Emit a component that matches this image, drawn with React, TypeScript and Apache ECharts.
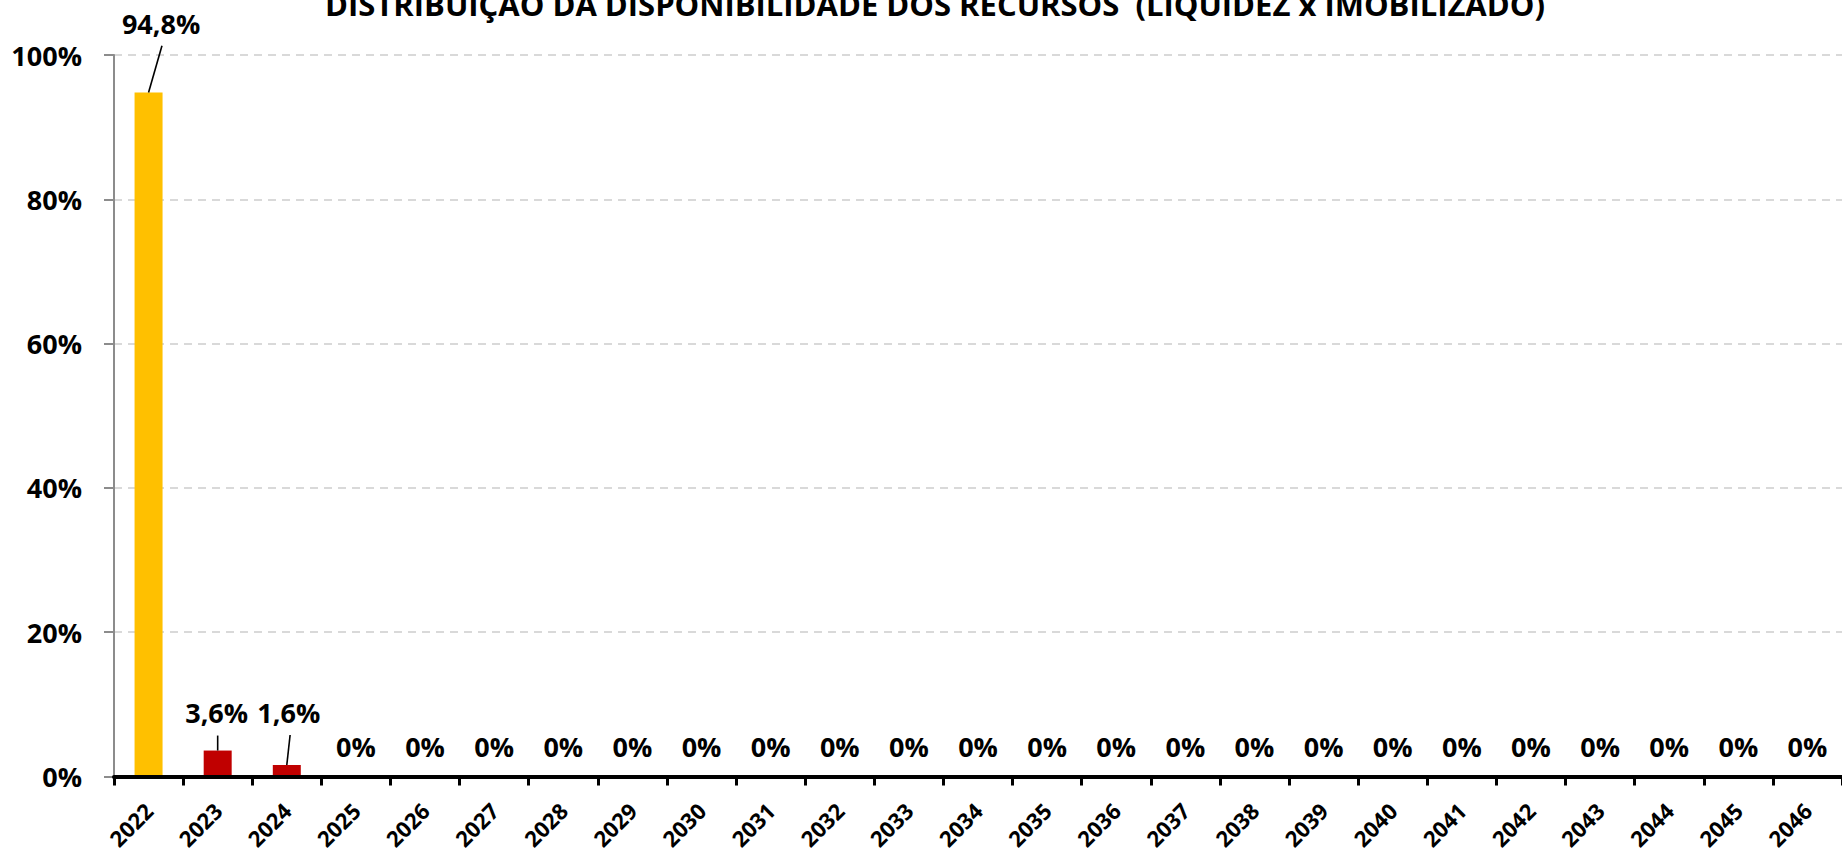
import React, { useEffect, useRef } from "react";
import * as echarts from "echarts";

const TITLE = "DISTRIBUIÇÃO DA DISPONIBILIDADE DOS RECURSOS  (LIQUIDEZ x IMOBILIZADO)";

const years = [
  "2022", "2023", "2024", "2025", "2026", "2027", "2028", "2029", "2030",
  "2031", "2032", "2033", "2034", "2035", "2036", "2037", "2038", "2039",
  "2040", "2041", "2042", "2043", "2044", "2045", "2046",
];

const shares = [
  94.8, 3.6, 1.6, 0, 0, 0, 0, 0, 0,
  0, 0, 0, 0, 0, 0, 0, 0, 0,
  0, 0, 0, 0, 0, 0, 0,
];

const kinds = [
  "Liquidez", "Imobilizado", "Imobilizado", "Imobilizado", "Imobilizado", "Imobilizado",
  "Imobilizado", "Imobilizado", "Imobilizado", "Imobilizado", "Imobilizado", "Imobilizado",
  "Imobilizado", "Imobilizado", "Imobilizado", "Imobilizado", "Imobilizado", "Imobilizado",
  "Imobilizado", "Imobilizado", "Imobilizado", "Imobilizado", "Imobilizado", "Imobilizado",
  "Imobilizado",
];

const yMin = 0;
const yMax = 100;
const yStep = 20;

const FONT = "'Open Sans', 'Noto Sans', sans-serif";
const kindColor: Record<string, string> = { Liquidez: "#FFC000", Imobilizado: "#C00000" };

// label displacement (px) for the labels that sit away from their bar, and guide lines
const labelShift: Record<number, [number, number]> = {
  0: [12.5, -54],
  1: [-1, -23],
  2: [2, -37],
};
const guideEnd: Record<number, [number, number]> = {
  0: [13.4, -46.7],
  1: [0, -15],
  2: [3.3, -30],
};

function fmt(v: number): string {
  if (v === 0) return "0%";
  return v.toFixed(1).replace(".", ",") + "%";
}

export default function App() {
  const ref = useRef<HTMLDivElement>(null);

  useEffect(() => {
    if (!ref.current) return;
    const chart = echarts.init(ref.current, null, { renderer: "svg" });

    const guided = shares.map((v, i) => i).filter((i) => guideEnd[i] !== undefined);

    const option: any = {
      animation: false,
      backgroundColor: "#ffffff",
      graphic: [
        {
          type: "text",
          x: 935,
          y: 4,
          style: {
            text: TITLE,
            fill: "#000",
            font: `bold 31px ${FONT}`,
            textAlign: "center",
            textVerticalAlign: "middle",
          },
        },
      ],
      grid: { left: 114, top: 55, width: 1730, height: 722, containLabel: false },
      xAxis: {
        type: "category",
        data: years,
        boundaryGap: true,
        axisLine: { show: true, lineStyle: { color: "#000", width: 4 } },
        axisTick: { show: true, alignWithLabel: false, length: 9, lineStyle: { color: "#000", width: 3 } },
        axisLabel: {
          interval: 0,
          rotate: 45,
          margin: 30,
          color: "#000",
          fontFamily: FONT,
          fontWeight: "bold",
          fontSize: 22,
        },
        splitLine: { show: false },
        z: 5,
      },
      yAxis: {
        type: "value",
        min: yMin,
        max: yMax,
        interval: yStep,
        axisLine: { show: true, lineStyle: { color: "#8c8c8c", width: 2 } },
        axisTick: { show: true, length: 10, lineStyle: { color: "#8c8c8c", width: 2 } },
        axisLabel: {
          formatter: "{value}%",
          margin: 32,
          color: "#000",
          fontFamily: FONT,
          fontWeight: "bold",
          fontSize: 27,
        },
        splitLine: { show: true, lineStyle: { color: "#d9d9d9", width: 2, type: [8, 6] } },
      },
      series: [
        {
          type: "bar",
          barWidth: 28,
          data: shares.map((v, i) => ({
            value: v,
            itemStyle: { color: kindColor[kinds[i]] },
            label: { offset: labelShift[i] ?? [0, -15] },
          })),
          label: {
            show: true,
            position: "top",
            distance: 0,
            color: "#000",
            fontFamily: FONT,
            fontWeight: "bold",
            fontSize: 27,
            lineHeight: 30,
            formatter: (p: any) => fmt(p.value),
          },
          z: 3,
        },
        {
          type: "custom",
          silent: true,
          z: 6,
          data: guided.map((i) => [i, shares[i]]),
          renderItem: (params: any, api: any) => {
            const idx = guided[params.dataIndex];
            const p = api.coord([api.value(0), api.value(1)]);
            const e = guideEnd[idx];
            return {
              type: "line",
              shape: { x1: p[0], y1: p[1], x2: p[0] + e[0], y2: p[1] + e[1] },
              style: { stroke: "#000", lineWidth: 1.6 },
            };
          },
        },
      ],
    };

    chart.setOption(option);
    return () => chart.dispose();
  }, []);

  return (
    <div
      ref={ref}
      style={{ position: "absolute", left: 0, top: 0, width: 1842, height: 852 }}
    />
  );
}
